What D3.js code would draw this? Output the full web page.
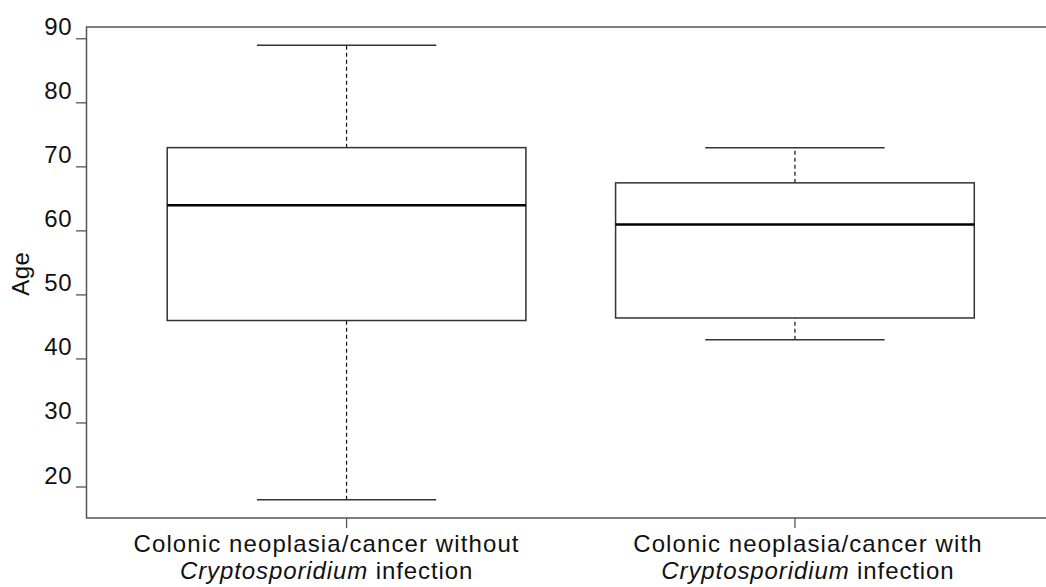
<!DOCTYPE html>
<html>
<head>
<meta charset="utf-8">
<script src="https://cdn.jsdelivr.net/npm/d3@7"></script>
<style>
	body { margin: 0; background: white; }
	svg { display: block; font-family: 'Liberation Sans', Arial, sans-serif; }
</style>
</head>
<body>
<script>
var groups = ['without', 'with']
var labelLine1 = ['Colonic neoplasia/cancer without', 'Colonic neoplasia/cancer with']
var lowWhisker = [18, 43]
var q1 = [46, 46.4]
var median = [64, 61]
var q3 = [73, 67.5]
var highWhisker = [89, 73]
var yTicks = [20, 30, 40, 50, 60, 70, 80, 90]

// labels sit a little off their ticks in the original
var labelShift = [-20, 13]

var boxes = groups.map(function(g, i) {
	return { g: g, lo: lowWhisker[i], q1: q1[i], med: median[i], q3: q3[i], hi: highWhisker[i], label: labelLine1[i] }
})

var svg = d3.select('body').append('svg')
	.attr('width', 1046)
	.attr('height', 587)

// R style limits: 4% padding on both axes
var x = d3.scaleLinear().domain([0.42, 2.58]).range([86.5, 1055])
var y = d3.scaleLinear().domain([15.16, 91.84]).range([518, 27])

var bw = x(1.8) - x(1)
var cw = bw / 2

// frame
svg.append('rect')
	.attr('x', x(0.42)).attr('y', y(91.84))
	.attr('width', x(2.58) - x(0.42)).attr('height', y(15.16) - y(91.84))
	.attr('fill', 'none').attr('stroke', '#555').attr('stroke-width', 1.5)

// y axis
var yAxis = svg.append('g')
yAxis.selectAll('line').data(yTicks).enter().append('line')
	.attr('x1', 76).attr('x2', x(0.42))
	.attr('y1', function(d) { return y(d) }).attr('y2', function(d) { return y(d) })
	.attr('stroke', '#555').attr('stroke-width', 1.3)
yAxis.selectAll('text').data(yTicks).enter().append('text')
	.attr('x', 72).attr('y', function(d) { return y(d) - 3.5 })
	.attr('text-anchor', 'end')
	.attr('font-size', 24)
	.attr('letter-spacing', 0.5)
	.attr('fill', '#111')
	.text(function(d) { return d })

svg.append('text')
	.attr('transform', 'translate(29,' + y(53.3) + ') rotate(-90)')
	.attr('text-anchor', 'middle')
	.attr('font-size', 24)
	.attr('letter-spacing', 0.5)
	.attr('fill', '#111')
	.text('Age')

// x ticks and labels
var xg = svg.selectAll('g.xl').data(boxes).enter().append('g').attr('class', 'xl')
	.attr('transform', function(d, i) { return 'translate(' + x(i + 1) + ',0)' })
xg.append('line').attr('y1', 518).attr('y2', 528).attr('stroke', '#555').attr('stroke-width', 1.3)
xg.append('text').attr('x', function(d, i) { return labelShift[i] })
	.attr('y', 552).attr('text-anchor', 'middle').attr('font-size', 24)
	.attr('letter-spacing', 1.1).attr('fill', '#111')
	.text(function(d) { return d.label })
var l2 = xg.append('text').attr('x', function(d, i) { return labelShift[i] })
	.attr('y', 579).attr('text-anchor', 'middle').attr('font-size', 24)
	.attr('letter-spacing', 0.9).attr('fill', '#111')
l2.append('tspan').attr('font-style', 'italic').text('Cryptosporidium')
l2.append('tspan').text(' infection')

// boxes
var bg = svg.selectAll('g.box').data(boxes).enter().append('g').attr('class', 'box')
	.attr('transform', function(d, i) { return 'translate(' + x(i + 1) + ',0)' })

bg.append('line').attr('class', 'wl')
	.attr('y1', function(d) { return y(d.lo) }).attr('y2', function(d) { return y(d.q1) })
bg.append('line').attr('class', 'wh')
	.attr('y1', function(d) { return y(d.q3) }).attr('y2', function(d) { return y(d.hi) })
bg.selectAll('line.wl, line.wh')
	.attr('stroke', '#111').attr('stroke-width', 1.2).attr('stroke-dasharray', '4,3')

bg.append('line').attr('x1', -cw / 2).attr('x2', cw / 2)
	.attr('y1', function(d) { return y(d.lo) }).attr('y2', function(d) { return y(d.lo) })
	.attr('stroke', '#333').attr('stroke-width', 1.5)
bg.append('line').attr('x1', -cw / 2).attr('x2', cw / 2)
	.attr('y1', function(d) { return y(d.hi) }).attr('y2', function(d) { return y(d.hi) })
	.attr('stroke', '#333').attr('stroke-width', 1.5)

bg.append('rect')
	.attr('x', -bw / 2).attr('width', bw)
	.attr('y', function(d) { return y(d.q3) })
	.attr('height', function(d) { return y(d.q1) - y(d.q3) })
	.attr('fill', 'none').attr('stroke', '#333').attr('stroke-width', 1.5)

bg.append('line').attr('x1', -bw / 2).attr('x2', bw / 2)
	.attr('y1', function(d) { return y(d.med) }).attr('y2', function(d) { return y(d.med) })
	.attr('stroke', '#000').attr('stroke-width', 2.5)
</script>
</body>
</html>
